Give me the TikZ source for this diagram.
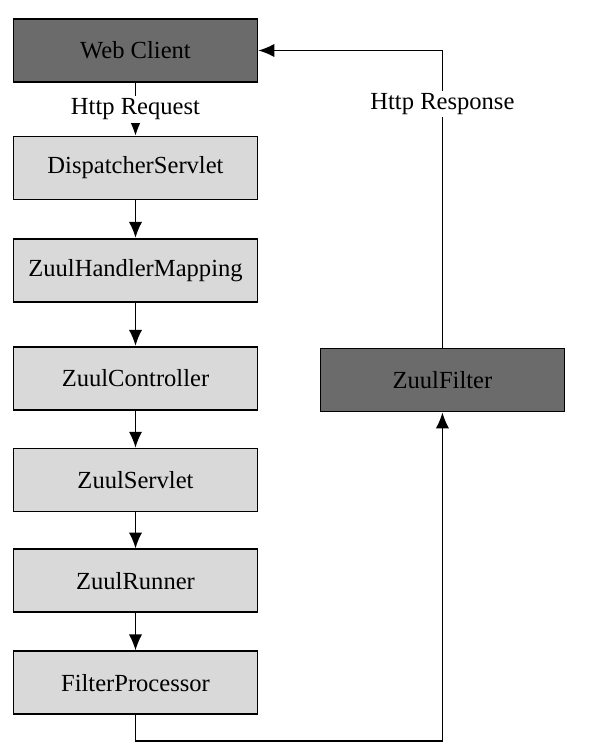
\documentclass[tikz,border=0pt]{standalone}
\usepackage{fontspec}
\setmainfont{Liberation Serif}
\usetikzlibrary{arrows.meta}
\tikzstyle{module}=[draw, line width=1.3pt, fill=black!15, minimum width=6.456cm,
  minimum height=1.667cm, inner sep=0pt, font=\fontsize{18.5}{20}\selectfont]
\tikzstyle{endpoint} = [module, fill=black!58]
\tikzstyle{texto} = [fill=white, inner sep=2pt, font=\fontsize{18.5}{20}\selectfont]
\tikzstyle{line} = [draw, line width=1.1pt, color=black, -{Latex[length=12pt,width=10pt]}]
\newcommand{\stage}[3]{node (#1) [#2] {#3}}

\begin{document}
\begin{tikzpicture}

  \useasboundingbox (0,0) rectangle (15.584,-19.764);

  % request chain
  \path (3.585,-1.336) \stage{WEBCLIENT}{endpoint}{Web Client};
  \path (WEBCLIENT.south)+(0.0,-2.25) \stage{DISPATCHER}{module}{DispatcherServlet};
  \path (DISPATCHER.south)+(0.0,-1.85) \stage{HANDLERMAPPING}{module}{ZuulHandlerMapping};
  \path (HANDLERMAPPING.south)+(0.0,-2.0) \stage{CONTROLLER}{module}{ZuulController};
  \path (CONTROLLER.south)+(0.0,-1.84) \stage{SERVLET}{module}{ZuulServlet};
  \path (SERVLET.south)+(0.0,-1.81) \stage{RUNNER}{module}{ZuulRunner};
  \path (RUNNER.south)+(0.0,-1.84) \stage{PROCESSOR}{module}{FilterProcessor};

  % filter and return path
  \path (CONTROLLER.east)+(4.87,-0.05) \stage{FILTER}{endpoint}{ZuulFilter};
  \path (PROCESSOR.south)+(0.0,-0.69) coordinate (LOOP);

  % Draw arrows between elements
  \path [line] (WEBCLIENT.south) -- node [texto] {Http Request} (DISPATCHER.north);
  \path [line] (DISPATCHER.south) -- (HANDLERMAPPING.north);
  \path [line] (HANDLERMAPPING.south) -- (CONTROLLER.north);
  \path [line] (CONTROLLER.south) -- (SERVLET.north);
  \path [line] (SERVLET.south) -- (RUNNER.north);
  \path [line] (RUNNER.south) -- (PROCESSOR.north);

  \path [line] (PROCESSOR.south) -- (LOOP) -| (FILTER.south);
  \path [line] (FILTER.north) |- node [texto, pos=0.41] {Http Response} (WEBCLIENT.east);

\end{tikzpicture}
\end{document}
